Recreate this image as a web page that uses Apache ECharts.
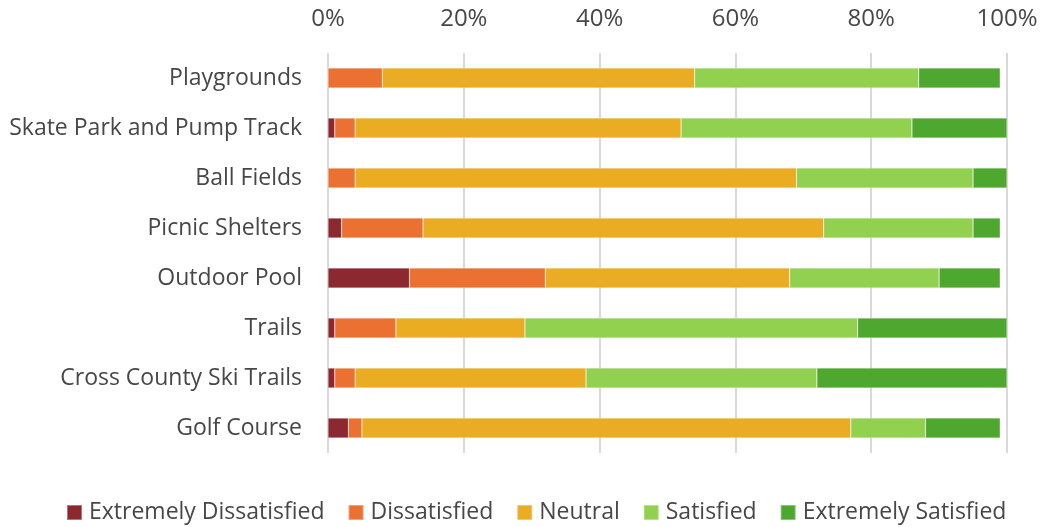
<!DOCTYPE html>
<html>
<head>
<meta charset="utf-8">
<script src="https://cdn.jsdelivr.net/npm/echarts@6/dist/echarts.min.js"></script>
<style>
  html, body { margin: 0; padding: 0; background: #fff; }
  #chart { width: 1042px; height: 527px; }
</style>
</head>
<body>
<div id="chart"></div>
<script>
// Facilities, top to bottom
const categories = [
  'Playgrounds',
  'Skate Park and Pump Track',
  'Ball Fields',
  'Picnic Shelters',
  'Outdoor Pool',
  'Trails',
  'Cross County Ski Trails',
  'Golf Course'
];

// Share of responses (%) per satisfaction level
const extremelyDissatisfied = [0, 1, 0, 2, 12, 1, 1, 3];
const dissatisfied          = [8, 3, 4, 12, 20, 9, 3, 2];
const neutral               = [46, 48, 65, 59, 36, 19, 34, 72];
const satisfied             = [33, 34, 26, 22, 22, 49, 34, 11];
const extremelySatisfied    = [12, 14, 5, 4, 9, 22, 28, 11];

const seriesNames = ['Extremely Dissatisfied', 'Dissatisfied', 'Neutral', 'Satisfied', 'Extremely Satisfied'];
const seriesColors = ['#8B2830', '#EA7132', '#E9AC23', '#92D050', '#4EA72E'];
const seriesData = [extremelyDissatisfied, dissatisfied, neutral, satisfied, extremelySatisfied];

const FONT = '"Open Sans", "Noto Sans", sans-serif';
const TEXT = '#474747';

const chart = echarts.init(document.getElementById('chart'), null, { renderer: 'canvas' });

chart.setOption({
  animation: false,
  backgroundColor: '#ffffff',
  textStyle: { fontFamily: FONT, color: TEXT },
  grid: { left: 328, right: 35, top: 53, bottom: 74, containLabel: false },
  legend: {
    bottom: -2,
    left: 61,
    itemWidth: 15,
    itemHeight: 15,
    itemGap: 23,
    icon: 'rect',
    textStyle: { fontFamily: FONT, fontSize: 23, color: TEXT, padding: [0, 0, 0, 2] },
    data: seriesNames
  },
  xAxis: {
    type: 'value',
    position: 'top',
    min: 0,
    max: 100,
    interval: 20,
    axisLine: { show: false },
    axisTick: { show: false },
    axisLabel: {
      margin: 22,
      fontFamily: FONT,
      fontSize: 24,
      color: TEXT,
      formatter: v => v + '%'
    },
    splitLine: { show: true, lineStyle: { color: '#D9D9D9', width: 2 } }
  },
  yAxis: {
    type: 'category',
    inverse: true,
    data: categories,
    axisLine: { show: false },
    axisTick: { show: false },
    axisLabel: { margin: 26, fontFamily: FONT, fontSize: 23, color: TEXT }
  },
  series: seriesData.map((d, i) => ({
    name: seriesNames[i],
    type: 'bar',
    stack: 'total',
    barWidth: 20,
    data: d,
    itemStyle: {
      color: seriesColors[i],
      borderColor: 'rgba(255,255,255,0.35)',
      borderWidth: 0.6
    }
  }))
});
</script>
</body>
</html>
